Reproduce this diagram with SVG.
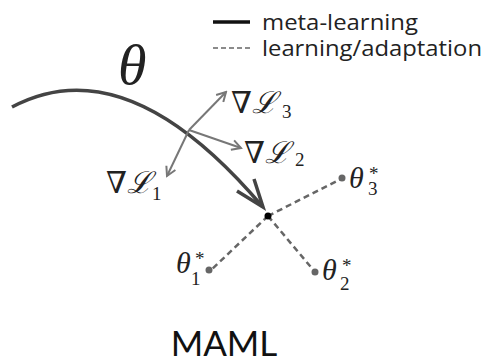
<svg xmlns="http://www.w3.org/2000/svg" width="490" height="361" viewBox="0 0 490 361">
<style>
.leg{font-family:"Open Sans","Liberation Sans",sans-serif;font-size:21px;fill:#222}
.math{font-family:"Liberation Serif","DejaVu Serif",serif;fill:#222}
.it{font-style:italic}
.big{font-size:30px}
.sub{font-size:19px}
.grad{stroke:#777;stroke-width:2;fill:none}
.dash{stroke:#666;stroke-width:2.5;stroke-dasharray:6 4;fill:none}
.pt{fill:#666}
</style>
<defs>
<marker id="ag" markerWidth="12" markerHeight="12" refX="10" refY="6" orient="auto" markerUnits="userSpaceOnUse">
<path d="M1,1 L10,6 L1,11" fill="none" stroke="#777" stroke-width="2"/>
</marker>
</defs>
<g id="legend">
<line x1="213" y1="22" x2="250" y2="22" stroke="#111" stroke-width="3.5"/>
<text class="leg" x="262" y="30" textLength="156" lengthAdjust="spacingAndGlyphs">meta-learning</text>
<line x1="213" y1="48" x2="250" y2="48" stroke="#666" stroke-width="1.5" stroke-dasharray="5 3"/>
<text class="leg" x="262" y="56" textLength="220" lengthAdjust="spacingAndGlyphs">learning/adaptation</text>
</g>
<g id="connectors">
<path d="M12 107 Q126 46 262 206" stroke="#444" stroke-width="3.5" fill="none"/>
<path d="M237 191 L263 207 L254 179" stroke="#444" stroke-width="3.5" fill="none" stroke-linejoin="miter"/>
<line class="grad" x1="189" y1="130" x2="226" y2="92" marker-end="url(#ag)"/>
<line class="grad" x1="189" y1="130" x2="167" y2="176" marker-end="url(#ag)"/>
<line class="grad" x1="189" y1="130" x2="241" y2="148" marker-end="url(#ag)"/>
<line class="dash" x1="268" y1="216" x2="341" y2="179"/>
<line class="dash" x1="268" y1="216" x2="210" y2="271"/>
<line class="dash" x1="268" y1="216" x2="315" y2="272"/>
</g>
<g id="theta">
<text class="math it" x="118" y="84" font-size="58">θ</text>
</g>
<g id="center"><circle cx="268" cy="216" r="3.5" fill="#000"/></g>
<g id="gradL3"><text class="math big" x="231" y="113">∇<tspan class="it">ℒ</tspan></text><text class="math sub" x="282" y="118">3</text></g>
<g id="gradL2"><text class="math big" x="244" y="163">∇<tspan class="it">ℒ</tspan></text><text class="math sub" x="295" y="166">2</text></g>
<g id="gradL1"><text class="math big" x="106" y="193">∇<tspan class="it">ℒ</tspan></text><text class="math sub" x="152" y="200">1</text></g>
<g id="theta3"><circle class="pt" cx="342" cy="178" r="3.5"/><text class="math it big" x="349" y="188">θ</text><text class="math sub" x="369" y="180">*</text><text class="math sub" x="368" y="195">3</text></g>
<g id="theta1"><circle class="pt" cx="209" cy="270" r="3.5"/><text class="math it big" x="176" y="273">θ</text><text class="math sub" x="195" y="265">*</text><text class="math sub" x="191" y="285">1</text></g>
<g id="theta2"><circle class="pt" cx="315" cy="272" r="3.5"/><text class="math it big" x="322" y="280">θ</text><text class="math sub" x="342" y="272">*</text><text class="math sub" x="340" y="290">2</text></g>
<g id="title"><text x="224" y="356" font-family="Lato,'Open Sans',sans-serif" font-size="35" fill="#111" text-anchor="middle">MAML</text></g>
</svg>
